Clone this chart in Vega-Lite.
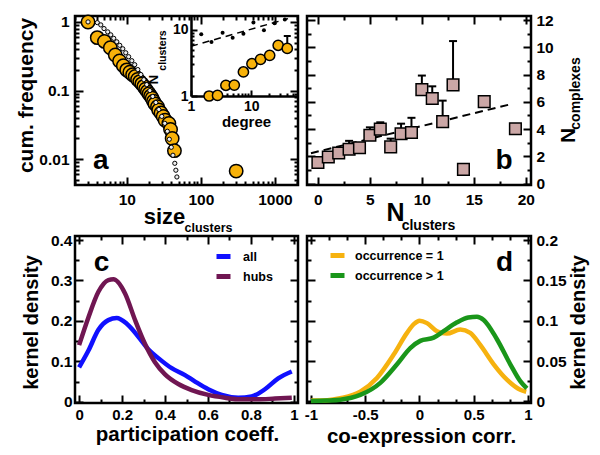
{
 "$schema": "https://vega.github.io/schema/vega-lite/v6.json",
 "background": "white",
 "padding": {"left": 13, "top": 10, "right": 0, "bottom": 0},
 "config": {
  "view": {"stroke": "black", "strokeWidth": 2.5},
  "font": "Liberation Sans",
  "axis": {"domain": false, "grid": false, "labelFont": "Liberation Sans", "labelFontWeight": "bold", "labelFontSize": 15.5, "labelColor": "black", "tickColor": "black", "tickWidth": 2, "titleFont": "Liberation Sans", "titleFontWeight": "bold", "titleColor": "black", "titleFontSize": 21, "labelOverlap": false, "labelFlush": false, "titleAlign": "center", "titleBaseline": "alphabetic"},
  "legend": {"labelFont": "Liberation Sans", "labelFontWeight": "bold", "labelFontSize": 12.5, "labelColor": "black"},
  "text": {"font": "Liberation Sans", "fontWeight": "bold", "color": "black"}
 },
 "datasets": {
  "a_circles": [
   {"size": 3, "freq": 1.0}, {"size": 4, "freq": 0.59}, {"size": 5, "freq": 0.52}, {"size": 6, "freq": 0.42}, {"size": 7, "freq": 0.33},
   {"size": 8, "freq": 0.27}, {"size": 9, "freq": 0.23}, {"size": 10, "freq": 0.2}, {"size": 11, "freq": 0.185}, {"size": 12, "freq": 0.17},
   {"size": 13, "freq": 0.16}, {"size": 14, "freq": 0.145}, {"size": 15, "freq": 0.135}, {"size": 16, "freq": 0.125}, {"size": 17, "freq": 0.115},
   {"size": 18, "freq": 0.105}, {"size": 19, "freq": 0.097}, {"size": 20, "freq": 0.09}, {"size": 21, "freq": 0.083}, {"size": 22, "freq": 0.077},
   {"size": 23, "freq": 0.07}, {"size": 24, "freq": 0.064}, {"size": 26, "freq": 0.058}, {"size": 27, "freq": 0.052}, {"size": 29, "freq": 0.047},
   {"size": 31, "freq": 0.042}, {"size": 33, "freq": 0.037}, {"size": 37, "freq": 0.033}, {"size": 39, "freq": 0.027}, {"size": 41, "freq": 0.02},
   {"size": 44, "freq": 0.0133}, {"size": 300, "freq": 0.0067}
  ],
  "a_dots": [
   {"size": 3, "freq": 1.0}, {"size": 4.0, "freq": 0.977}, {"size": 4.46, "freq": 0.905}, {"size": 4.93, "freq": 0.8}, {"size": 5.53, "freq": 0.716},
   {"size": 6.08, "freq": 0.648}, {"size": 6.67, "freq": 0.577}, {"size": 7.33, "freq": 0.513}, {"size": 8.04, "freq": 0.456}, {"size": 8.83, "freq": 0.406},
   {"size": 9.69, "freq": 0.355}, {"size": 10.6, "freq": 0.311}, {"size": 11.7, "freq": 0.272}, {"size": 12.8, "freq": 0.238}, {"size": 14.1, "freq": 0.202},
   {"size": 15.5, "freq": 0.171}, {"size": 17.0, "freq": 0.144}, {"size": 18.6, "freq": 0.122}, {"size": 20.5, "freq": 0.1}, {"size": 22.4, "freq": 0.082},
   {"size": 24.7, "freq": 0.067}, {"size": 27.1, "freq": 0.053}, {"size": 29.7, "freq": 0.042}, {"size": 32.6, "freq": 0.0333}, {"size": 35.3, "freq": 0.0255},
   {"size": 37.5, "freq": 0.0195}, {"size": 39.9, "freq": 0.0149}, {"size": 42, "freq": 0.0114}, {"size": 44.5, "freq": 0.0087}, {"size": 46, "freq": 0.0069},
   {"size": 47.5, "freq": 0.0055}
  ],
  "a_lbl": [{"size": 4.45, "freq": 0.0072, "t": "a"}],
  "inset_dots": [
   {"deg": 1.48, "n": 8.5}, {"deg": 2.19, "n": 6.5}, {"deg": 3.35, "n": 8.95}, {"deg": 4.92, "n": 7.5}, {"deg": 7.43, "n": 8.65},
   {"deg": 10.9, "n": 12.8}, {"deg": 16.3, "n": 9.8}, {"deg": 24.4, "n": 12.4}, {"deg": 36.3, "n": 14.2}
  ],
  "inset_circles": [
   {"deg": 2.0, "n": 1.0}, {"deg": 2.76, "n": 1.02}, {"deg": 3.8, "n": 1.45}, {"deg": 5.24, "n": 1.46}, {"deg": 7.43, "n": 2.3},
   {"deg": 10.3, "n": 3.06}, {"deg": 14.3, "n": 3.56}, {"deg": 20.3, "n": 4.1}, {"deg": 28.1, "n": 5.8}, {"deg": 39.8, "n": 5.2, "hi": 8.0}
  ],
  "inset_line": [{"deg": 1, "n": 5.6}, {"deg": 41, "n": 14.6}],
  "b_sq": [
   {"nc": 0, "ncx": 1.55}, {"nc": 1, "ncx": 1.95, "hi": 2.3}, {"nc": 2, "ncx": 2.25, "hi": 2.6}, {"nc": 3, "ncx": 2.52, "hi": 3.14},
   {"nc": 4, "ncx": 2.63, "hi": 2.95}, {"nc": 5, "ncx": 3.55, "hi": 4.13}, {"nc": 6, "ncx": 4.0, "hi": 4.5}, {"nc": 7, "ncx": 2.7, "hi": 3.3},
   {"nc": 8, "ncx": 3.66, "hi": 4.4}, {"nc": 9, "ncx": 3.75, "hi": 4.83}, {"nc": 10, "ncx": 6.9, "hi": 7.93}, {"nc": 11, "ncx": 6.25, "hi": 7.14},
   {"nc": 12, "ncx": 4.55, "hi": 6.09}, {"nc": 13, "ncx": 7.25, "hi": 10.46}, {"nc": 14, "ncx": 1.05}, {"nc": 16, "ncx": 6.02}, {"nc": 19, "ncx": 4.03}
  ],
  "b_line": [{"nc": -0.67, "ncx": 2.23}, {"nc": 18.4, "ncx": 5.8}],
  "b_lbl": [{"nc": 17.9, "ncx": 1.1, "t": "b"}],
  "c_lines": [
   {"p": 0.0, "dens": 0.085, "s": "all"}, {"p": 0.043, "dens": 0.126, "s": "all"}, {"p": 0.09, "dens": 0.178, "s": "all"}, {"p": 0.136, "dens": 0.202, "s": "all"},
   {"p": 0.175, "dens": 0.207, "s": "all"}, {"p": 0.222, "dens": 0.193, "s": "all"}, {"p": 0.276, "dens": 0.161, "s": "all"}, {"p": 0.322, "dens": 0.13, "s": "all"},
   {"p": 0.369, "dens": 0.108, "s": "all"}, {"p": 0.431, "dens": 0.083, "s": "all"}, {"p": 0.493, "dens": 0.066, "s": "all"}, {"p": 0.54, "dens": 0.05, "s": "all"},
   {"p": 0.601, "dens": 0.031, "s": "all"}, {"p": 0.664, "dens": 0.017, "s": "all"}, {"p": 0.741, "dens": 0.01, "s": "all"}, {"p": 0.803, "dens": 0.013, "s": "all"},
   {"p": 0.865, "dens": 0.031, "s": "all"}, {"p": 0.927, "dens": 0.058, "s": "all"}, {"p": 0.99, "dens": 0.075, "s": "all"},
   {"p": 0.0, "dens": 0.14, "s": "hubs"}, {"p": 0.043, "dens": 0.208, "s": "hubs"}, {"p": 0.09, "dens": 0.272, "s": "hubs"}, {"p": 0.136, "dens": 0.301, "s": "hubs"},
   {"p": 0.16, "dens": 0.303, "s": "hubs"}, {"p": 0.214, "dens": 0.268, "s": "hubs"}, {"p": 0.26, "dens": 0.203, "s": "hubs"}, {"p": 0.307, "dens": 0.143, "s": "hubs"},
   {"p": 0.353, "dens": 0.098, "s": "hubs"}, {"p": 0.4, "dens": 0.068, "s": "hubs"}, {"p": 0.462, "dens": 0.044, "s": "hubs"}, {"p": 0.524, "dens": 0.029, "s": "hubs"},
   {"p": 0.601, "dens": 0.017, "s": "hubs"}, {"p": 0.679, "dens": 0.01, "s": "hubs"}, {"p": 0.75, "dens": 0.006, "s": "hubs"}, {"p": 0.83, "dens": 0.006, "s": "hubs"},
   {"p": 0.912, "dens": 0.008, "s": "hubs"}, {"p": 0.99, "dens": 0.01, "s": "hubs"}
  ],
  "c_lbl": [{"p": 0.105, "dens": 0.323, "t": "c"}],
  "d_lines": [
   {"r": -1, "dens": 0.001, "s": "occurrence = 1"}, {"r": -0.85, "dens": 0.0015, "s": "occurrence = 1"}, {"r": -0.73, "dens": 0.004, "s": "occurrence = 1"},
   {"r": -0.546, "dens": 0.012, "s": "occurrence = 1"}, {"r": -0.392, "dens": 0.029, "s": "occurrence = 1"}, {"r": -0.238, "dens": 0.058, "s": "occurrence = 1"},
   {"r": -0.115, "dens": 0.085, "s": "occurrence = 1"}, {"r": -0.05, "dens": 0.096, "s": "occurrence = 1"}, {"r": 0.0, "dens": 0.1, "s": "occurrence = 1"},
   {"r": 0.069, "dens": 0.097, "s": "occurrence = 1"}, {"r": 0.161, "dens": 0.087, "s": "occurrence = 1"}, {"r": 0.253, "dens": 0.084, "s": "occurrence = 1"},
   {"r": 0.376, "dens": 0.089, "s": "occurrence = 1"}, {"r": 0.468, "dens": 0.085, "s": "occurrence = 1"}, {"r": 0.56, "dens": 0.07, "s": "occurrence = 1"},
   {"r": 0.684, "dens": 0.046, "s": "occurrence = 1"}, {"r": 0.806, "dens": 0.027, "s": "occurrence = 1"}, {"r": 0.929, "dens": 0.0145, "s": "occurrence = 1"},
   {"r": 0.984, "dens": 0.012, "s": "occurrence = 1"},
   {"r": -1, "dens": 0.0005, "s": "occurrence > 1"}, {"r": -0.85, "dens": 0.001, "s": "occurrence > 1"}, {"r": -0.73, "dens": 0.002, "s": "occurrence > 1"},
   {"r": -0.546, "dens": 0.008, "s": "occurrence > 1"}, {"r": -0.361, "dens": 0.023, "s": "occurrence > 1"}, {"r": -0.207, "dens": 0.046, "s": "occurrence > 1"},
   {"r": -0.085, "dens": 0.066, "s": "occurrence > 1"}, {"r": 0.007, "dens": 0.075, "s": "occurrence > 1"}, {"r": 0.131, "dens": 0.079, "s": "occurrence > 1"},
   {"r": 0.223, "dens": 0.087, "s": "occurrence > 1"}, {"r": 0.346, "dens": 0.098, "s": "occurrence > 1"}, {"r": 0.45, "dens": 0.104, "s": "occurrence > 1"},
   {"r": 0.53, "dens": 0.105, "s": "occurrence > 1"}, {"r": 0.592, "dens": 0.101, "s": "occurrence > 1"}, {"r": 0.714, "dens": 0.077, "s": "occurrence > 1"},
   {"r": 0.837, "dens": 0.046, "s": "occurrence > 1"}, {"r": 0.929, "dens": 0.025, "s": "occurrence > 1"}, {"r": 0.99, "dens": 0.016, "s": "occurrence > 1"}
  ],
  "d_lbl": [{"r": 0.783, "dens": 0.1615, "t": "d"}]
 },
 "columns": 2,
 "spacing": {"row": 51, "column": 9},
 "bounds": "flush",
 "resolve": {"scale": {"color": "independent"}, "legend": {"color": "independent"}},
 "concat": [
  {
   "width": 223, "height": 169,
   "resolve": {"scale": {"x": "independent", "y": "independent"}, "axis": {"x": "independent", "y": "independent"}},
   "layer": [
    {
     "data": {"name": "a_circles"},
     "mark": {"type": "circle", "size": 180, "fill": "#f8b20a", "stroke": "black", "strokeWidth": 1.5, "opacity": 1},
     "encoding": {
      "x": {"field": "size", "type": "quantitative", "scale": {"type": "log", "domain": [2, 2050], "nice": false},
       "axis": {"orient": "bottom", "values": [2,3,4,5,6,7,8,9,10,20,30,40,50,60,70,80,90,100,200,300,400,500,600,700,800,900,1000,2000], "format": "d",
        "tickSize": {"condition": {"test": "datum.value==10||datum.value==100||datum.value==1000", "value": -8}, "value": -4},
        "labelExpr": "datum.value==10||datum.value==100||datum.value==1000 ? datum.label : ''", "labelPadding": 15,
        "title": "size", "titleFontSize": 22, "titleX": 89, "titleY": 38}},
      "y": {"field": "freq", "type": "quantitative", "scale": {"type": "log", "domain": [0.0042, 1.22], "nice": false},
       "axis": {"orient": "left", "values": [0.005,0.006,0.007,0.008,0.009,0.01,0.02,0.03,0.04,0.05,0.06,0.07,0.08,0.09,0.1,0.2,0.3,0.4,0.5,0.6,0.7,0.8,0.9,1],
        "tickSize": {"condition": {"test": "datum.value==0.01||datum.value==0.1||datum.value==1", "value": -8}, "value": -4},
        "labelExpr": "datum.value==1?'1':datum.value==0.1?'0.1':datum.value==0.01?'0.01':''", "labelPadding": 14,
        "title": "cum. frequency", "titleAngle": 270, "titleX": -43, "titleY": 79}}
     }
    },
    {
     "data": {"name": "a_dots"},
     "mark": {"type": "circle", "size": 18, "fill": "#eeeeee", "stroke": "black", "strokeWidth": 1, "opacity": 1},
     "encoding": {
      "x": {"field": "size", "type": "quantitative", "scale": {"type": "log", "domain": [2, 2050], "nice": false},
       "axis": {"orient": "top", "values": [2,3,4,5,6,7,8,9,10,20,30,40,50,60,70,80,90,100,200,300,400,500,600,700,800,900,1000,2000],
        "tickSize": {"condition": {"test": "datum.value==10||datum.value==100||datum.value==1000", "value": -8}, "value": -4},
        "labels": false, "title": "clusters", "titleFontSize": 12.5, "titleX": 133, "titleY": 215}},
      "y": {"field": "freq", "type": "quantitative", "scale": {"type": "log", "domain": [0.0042, 1.22], "nice": false},
       "axis": {"orient": "right", "values": [0.005,0.006,0.007,0.008,0.009,0.01,0.02,0.03,0.04,0.05,0.06,0.07,0.08,0.09,0.1,0.2,0.3,0.4,0.5,0.6,0.7,0.8,0.9,1],
        "tickSize": {"condition": {"test": "datum.value==0.01||datum.value==0.1||datum.value==1", "value": -8}, "value": -4},
        "labels": false, "title": null}}
     }
    },
    {
     "data": {"name": "a_lbl"},
     "mark": {"type": "text", "fontSize": 28, "align": "center", "baseline": "alphabetic"},
     "encoding": {
      "x": {"field": "size", "type": "quantitative", "scale": {"type": "log", "domain": [2, 2050], "nice": false}, "axis": null},
      "y": {"field": "freq", "type": "quantitative", "scale": {"type": "log", "domain": [0.0042, 1.22], "nice": false}, "axis": null},
      "text": {"field": "t"}
     }
    },
    {
     "data": {"name": "inset_line"},
     "mark": {"type": "line", "stroke": "black", "strokeWidth": 1.5, "strokeDash": [7, 5]},
     "encoding": {
      "x": {"field": "deg", "type": "quantitative", "scale": {"type": "log", "domain": [1, 60], "range": [116, 223], "nice": false}, "axis": null},
      "y": {"field": "n", "type": "quantitative", "scale": {"type": "log", "domain": [1, 16], "range": [80, 0], "nice": false}, "axis": null}
     }
    },
    {
     "data": {"name": "inset_dots"},
     "mark": {"type": "circle", "size": 16, "fill": "black", "opacity": 1},
     "encoding": {
      "x": {"field": "deg", "type": "quantitative", "scale": {"type": "log", "domain": [1, 60], "range": [116, 223], "nice": false}, "axis": null},
      "y": {"field": "n", "type": "quantitative", "scale": {"type": "log", "domain": [1, 16], "range": [80, 0], "nice": false},
       "axis": {"orient": "left", "offset": -116, "ticks": false, "labels": false, "domain": false, "title": "clusters", "titleFontSize": 10.5, "titleAngle": 270, "titleX": -26, "titleY": 34}}
     }
    },
    {
     "data": {"name": "inset_circles"},
     "transform": [{"filter": "datum.hi != null"}],
     "mark": {"type": "rule", "stroke": "black", "strokeWidth": 2},
     "encoding": {
      "x": {"field": "deg", "type": "quantitative", "scale": {"type": "log", "domain": [1, 60], "range": [116, 223], "nice": false}, "axis": null},
      "y": {"field": "n", "type": "quantitative", "scale": {"type": "log", "domain": [1, 16], "range": [80, 0], "nice": false}, "axis": null},
      "y2": {"field": "hi"}
     }
    },
    {
     "data": {"name": "inset_circles"},
     "transform": [{"filter": "datum.hi != null"}],
     "mark": {"type": "tick", "orient": "horizontal", "size": 7, "thickness": 2, "color": "black", "opacity": 1},
     "encoding": {
      "x": {"field": "deg", "type": "quantitative", "scale": {"type": "log", "domain": [1, 60], "range": [116, 223], "nice": false}, "axis": null},
      "y": {"field": "hi", "type": "quantitative", "scale": {"type": "log", "domain": [1, 16], "range": [80, 0], "nice": false}, "axis": null}
     }
    },
    {
     "data": {"name": "inset_circles"},
     "mark": {"type": "circle", "size": 105, "fill": "#f8b20a", "stroke": "black", "strokeWidth": 1.5, "opacity": 1},
     "encoding": {
      "x": {"field": "deg", "type": "quantitative", "scale": {"type": "log", "domain": [1, 60], "range": [116, 223], "nice": false},
       "axis": {"orient": "bottom", "offset": -89, "values": [1,2,3,4,5,6,7,8,9,10,20,30,40,50], "format": "d",
        "tickSize": {"condition": {"test": "datum.value==1||datum.value==10", "value": -6}, "value": -3},
        "labelExpr": "datum.value==1||datum.value==10 ? datum.label : ''", "labelFontSize": 14, "labelPadding": 9,
        "domain": true, "domainColor": "black", "domainWidth": 2.5,
        "title": "degree", "titleFontSize": 15, "titleX": 171, "titleY": 30}},
      "y": {"field": "n", "type": "quantitative", "scale": {"type": "log", "domain": [1, 16], "range": [80, 0], "nice": false},
       "axis": {"orient": "left", "offset": -116, "values": [1,2,3,4,5,6,7,8,9,10], "format": "d",
        "tickSize": {"condition": {"test": "datum.value==1||datum.value==10", "value": -6}, "value": -3},
        "labelExpr": "datum.value==1||datum.value==10 ? datum.label : ''", "labelFontSize": 14, "labelPadding": 9,
        "domain": true, "domainColor": "black", "domainWidth": 2.5,
        "title": "N", "titleFontSize": 13, "titleAngle": 270, "titleX": -34, "titleY": 63}}
     }
    }
   ]
  },
  {
   "width": 224, "height": 169,
   "resolve": {"axis": {"x": "independent", "y": "independent"}},
   "layer": [
    {
     "data": {"name": "b_line"},
     "mark": {"type": "line", "stroke": "black", "strokeWidth": 2, "strokeDash": [8, 5]},
     "encoding": {
      "x": {"field": "nc", "type": "quantitative", "scale": {"domain": [-1.05, 20.5], "nice": false, "zero": false},
       "axis": {"orient": "bottom", "values": [0,2.5,5,7.5,10,12.5,15,17.5,20],
        "tickSize": {"condition": {"test": "datum.value%5==0", "value": -8}, "value": -4},
        "labelExpr": "datum.value%5==0 ? format(datum.value,'d') : ''", "labelPadding": 15,
        "title": "N", "titleFontSize": 25, "titleX": 88, "titleY": 35}},
      "y": {"field": "ncx", "type": "quantitative", "scale": {"domain": [-0.1, 12.3], "nice": false, "zero": false},
       "axis": {"orient": "left", "values": [0,1,2,3,4,5,6,7,8,9,10,11,12],
        "tickSize": {"condition": {"test": "datum.value%2==0", "value": -8}, "value": -4},
        "labels": false, "title": "complexes", "titleFontSize": 14, "titleAngle": 270, "titleX": 272, "titleY": 77}}
     }
    },
    {
     "data": {"name": "b_sq"},
     "transform": [{"filter": "datum.hi != null"}],
     "mark": {"type": "rule", "stroke": "black", "strokeWidth": 2},
     "encoding": {
      "x": {"field": "nc", "type": "quantitative", "scale": {"domain": [-1.05, 20.5], "nice": false, "zero": false},
       "axis": {"orient": "top", "values": [0,2.5,5,7.5,10,12.5,15,17.5,20],
        "tickSize": {"condition": {"test": "datum.value%5==0", "value": -8}, "value": -4},
        "labels": false, "title": "clusters", "titleFontSize": 14, "titleX": 121, "titleY": 213}},
      "y": {"field": "ncx", "type": "quantitative", "scale": {"domain": [-0.1, 12.3], "nice": false, "zero": false},
       "axis": {"orient": "right", "values": [0,1,2,3,4,5,6,7,8,9,10,11,12],
        "tickSize": {"condition": {"test": "datum.value%2==0", "value": -8}, "value": -4},
        "labelExpr": "datum.value%2==0 ? format(datum.value,'d') : ''", "labelPadding": 13,
        "title": "N", "titleFontSize": 21, "titleAngle": 270, "titleX": 43, "titleY": 119}},
      "y2": {"field": "hi"}
     }
    },
    {
     "data": {"name": "b_sq"},
     "transform": [{"filter": "datum.hi != null"}],
     "mark": {"type": "tick", "orient": "horizontal", "size": 8, "thickness": 2, "color": "black", "opacity": 1},
     "encoding": {
      "x": {"field": "nc", "type": "quantitative", "axis": null},
      "y": {"field": "hi", "type": "quantitative", "axis": null}
     }
    },
    {
     "data": {"name": "b_sq"},
     "mark": {"type": "square", "size": 135, "fill": "#cba7a6", "stroke": "black", "strokeWidth": 1.5, "opacity": 1},
     "encoding": {
      "x": {"field": "nc", "type": "quantitative", "axis": null},
      "y": {"field": "ncx", "type": "quantitative", "axis": null}
     }
    },
    {
     "data": {"name": "b_lbl"},
     "mark": {"type": "text", "fontSize": 28, "align": "center", "baseline": "alphabetic"},
     "encoding": {
      "x": {"field": "nc", "type": "quantitative", "axis": null},
      "y": {"field": "ncx", "type": "quantitative", "axis": null},
      "text": {"field": "t"}
     }
    }
   ]
  },
  {
   "width": 223, "height": 167,
   "resolve": {"axis": {"x": "independent", "y": "independent"}},
   "layer": [
    {
     "data": {"name": "c_lines"},
     "mark": {"type": "line", "strokeWidth": 4.5, "interpolate": "monotone"},
     "encoding": {
      "x": {"field": "p", "type": "quantitative", "scale": {"domain": [-0.019, 1.019], "nice": false, "zero": false},
       "axis": {"orient": "bottom", "values": [0,0.1,0.2,0.3,0.4,0.5,0.6,0.7,0.8,0.9,1],
        "tickSize": {"condition": {"test": "round(datum.value*10)%2==0", "value": -8}, "value": -4},
        "labelExpr": "round(datum.value*10)%2==0 ? format(datum.value,'~g') : ''", "labelPadding": 12, "labelFontSize": 15,
        "title": "participation coeff.", "titleFontSize": 20.5, "titleX": 112, "titleY": 37}},
      "y": {"field": "dens", "type": "quantitative", "scale": {"domain": [-0.003, 0.41], "nice": false, "zero": false},
       "axis": {"orient": "left", "values": [0,0.05,0.1,0.15,0.2,0.25,0.3,0.35,0.4],
        "tickSize": {"condition": {"test": "round(datum.value*20)%2==0", "value": -8}, "value": -4},
        "labelExpr": "round(datum.value*20)%2==0 ? format(datum.value,'~g') : ''", "labelPadding": 11,
        "title": "kernel density", "titleFontSize": 20, "titleAngle": 270, "titleX": -38, "titleY": 86}},
      "color": {"field": "s", "type": "nominal", "scale": {"domain": ["all", "hubs"], "range": ["#1010ff", "#701652"]},
       "legend": {"orient": "none", "legendX": 139, "legendY": 11, "title": null, "symbolType": "stroke", "symbolStrokeWidth": 5, "symbolSize": 196, "padding": 0, "rowPadding": -6, "labelOffset": 10}}
     }
    },
    {
     "data": {"name": "c_lbl"},
     "mark": {"type": "text", "fontSize": 28, "align": "center", "baseline": "alphabetic"},
     "encoding": {
      "x": {"field": "p", "type": "quantitative",
       "axis": {"orient": "top", "values": [0,0.1,0.2,0.3,0.4,0.5,0.6,0.7,0.8,0.9,1],
        "tickSize": {"condition": {"test": "round(datum.value*10)%2==0", "value": -8}, "value": -4}, "labels": false, "title": null}},
      "y": {"field": "dens", "type": "quantitative",
       "axis": {"orient": "right", "values": [0,0.05,0.1,0.15,0.2,0.25,0.3,0.35,0.4],
        "tickSize": {"condition": {"test": "round(datum.value*20)%2==0", "value": -8}, "value": -4}, "labels": false, "title": null}},
      "text": {"field": "t"}
     }
    }
   ]
  },
  {
   "width": 224, "height": 167,
   "resolve": {"axis": {"x": "independent", "y": "independent"}},
   "layer": [
    {
     "data": {"name": "d_lines"},
     "mark": {"type": "line", "strokeWidth": 4.5, "interpolate": "monotone"},
     "encoding": {
      "x": {"field": "r", "type": "quantitative", "scale": {"domain": [-1.037, 1.028], "nice": false, "zero": false},
       "axis": {"orient": "bottom", "values": [-1,-0.8333333,-0.6666667,-0.5,-0.3333333,-0.1666667,0,0.1666667,0.3333333,0.5,0.6666667,0.8333333,1],
        "tickSize": {"condition": {"test": "abs(datum.value*2-round(datum.value*2))<0.001", "value": -8}, "value": -4},
        "labelExpr": "abs(datum.value*2-round(datum.value*2))<0.001 ? (datum.value<0 ? '-' + format(-datum.value,'~g') : format(datum.value,'~g')) : ''", "labelPadding": 12, "labelFontSize": 15,
        "title": "co-expression corr.", "titleFontSize": 20.5, "titleX": 114, "titleY": 39}},
      "y": {"field": "dens", "type": "quantitative", "scale": {"domain": [-0.002, 0.205], "nice": false, "zero": false},
       "axis": {"orient": "left", "values": [0,0.025,0.05,0.075,0.1,0.125,0.15,0.175,0.2],
        "tickSize": {"condition": {"test": "round(datum.value*40)%2==0", "value": -8}, "value": -4},
        "labels": false, "title": null}},
      "color": {"field": "s", "type": "nominal", "scale": {"domain": ["occurrence = 1", "occurrence > 1"], "range": ["#f6b20f", "#1a961a"]},
       "legend": {"orient": "none", "legendX": 21, "legendY": 10, "title": null, "symbolType": "stroke", "symbolStrokeWidth": 5, "symbolSize": 196, "padding": 0, "rowPadding": -6, "labelOffset": 8}}
     }
    },
    {
     "data": {"name": "d_lbl"},
     "mark": {"type": "text", "fontSize": 28, "align": "center", "baseline": "alphabetic"},
     "encoding": {
      "x": {"field": "r", "type": "quantitative",
       "axis": {"orient": "top", "values": [-1,-0.8333333,-0.6666667,-0.5,-0.3333333,-0.1666667,0,0.1666667,0.3333333,0.5,0.6666667,0.8333333,1],
        "tickSize": {"condition": {"test": "abs(datum.value*2-round(datum.value*2))<0.001", "value": -8}, "value": -4}, "labels": false, "title": null}},
      "y": {"field": "dens", "type": "quantitative",
       "axis": {"orient": "right", "values": [0,0.025,0.05,0.075,0.1,0.125,0.15,0.175,0.2],
        "tickSize": {"condition": {"test": "round(datum.value*40)%2==0", "value": -8}, "value": -4},
        "labelExpr": "round(datum.value*40)%2==0 ? format(datum.value,'~g') : ''", "labelPadding": 13,
        "title": "kernel density", "titleFontSize": 20, "titleAngle": 270, "titleX": 53, "titleY": 86}},
      "text": {"field": "t"}
     }
    }
   ]
  }
 ]
}
